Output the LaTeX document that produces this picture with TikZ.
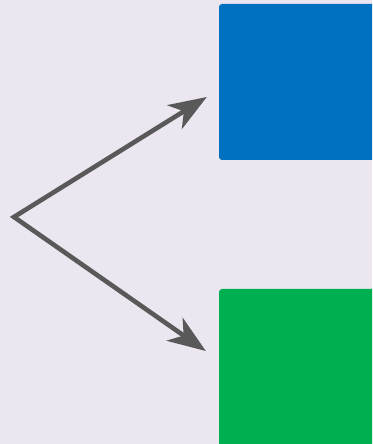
\documentclass[tikz,border=0pt]{standalone}
\usetikzlibrary{arrows.meta}
\definecolor{bgcol}{HTML}{EBE6EF}
\definecolor{boxblue}{HTML}{0070C0}
\definecolor{boxgreen}{HTML}{00B050}
\definecolor{arrowgray}{HTML}{595959}
\tikzset{
  box/.style={rounded corners=3pt, minimum width=157pt},
  fork/.style={line width=4.6pt, draw=arrowgray,
    {Stealth[length=38pt,width=28pt,inset=11pt]}-{Stealth[length=38pt,width=28pt,inset=11pt]}}
}
\begin{document}
\begin{tikzpicture}[x=1pt,y=1pt]
\fill[bgcol] (0,0) rectangle (372,444);
\useasboundingbox (0,0) rectangle (372,444);
\clip (0,0) rectangle (372,444);
\node[box, fill=boxblue, minimum height=156pt] (upper) at (297.5,362) {};
\node[box, fill=boxgreen, minimum height=159pt] (lower) at (297.5,75.5) {};
\coordinate (split) at (14,227);
\draw[fork] ([xshift=-12pt,yshift=-15pt]upper.west) -- (split) -- ([xshift=-13pt,yshift=17.5pt]lower.west);
\end{tikzpicture}
\end{document}
